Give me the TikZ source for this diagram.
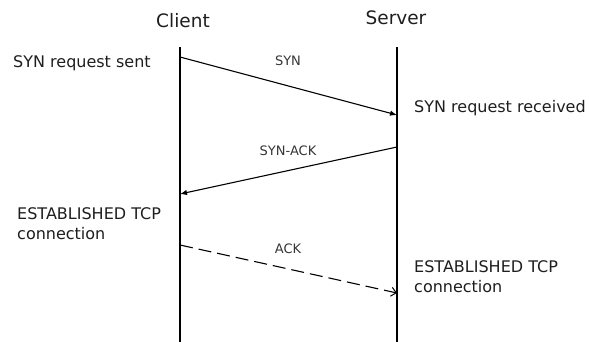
\documentclass[tikz,border=0pt]{standalone}
\usepackage{fontspec}
\setmainfont{DejaVu Sans}
\usetikzlibrary{arrows.meta}
\definecolor{ink}{HTML}{1E1E1E}
\begin{document}
\begin{tikzpicture}[x=1pt,y=-1pt,
  lifeline/.style={draw=black,line width=1.3pt},
  msg/.style={draw=black,line width=1.1pt,-{Latex[length=7pt,width=5.5pt]}},
  ackmsg/.style={draw=black,line width=1.1pt,dash pattern=on 13pt off 6pt,
    -{Straight Barb[length=5pt,width=9pt,line width=1pt]}},
  head/.style={font=\fontsize{18.5}{22}\selectfont,text=ink,inner sep=0pt,anchor=base},
  note/.style={font=\fontsize{16}{20}\selectfont,text=ink,inner sep=0pt,
    anchor=base west,align=left},
  tag/.style={font=\fontsize{13}{15}\selectfont,text=ink!90,inner sep=0pt,anchor=base}]
  \useasboundingbox (0,0) rectangle (589,341);

  % lifelines
  \coordinate (c0) at (180,47);  \coordinate (c1) at (180,342);
  \coordinate (s0) at (397,47);  \coordinate (s1) at (397,342);
  \draw[lifeline] (c0) -- (c1);
  \draw[lifeline] (s0) -- (s1);

  % titles
  \node[head] (client) at (183,27) {Client};
  \node[head] (server) at (396,24) {Server};

  % message end points
  \coordinate (synA) at (180,57);   \coordinate (synB) at (397,115);
  \coordinate (saA)  at (397,147);  \coordinate (saB)  at (180,194);
  \coordinate (ackA) at (180,245);  \coordinate (ackB) at (397,293);

  % handshake messages
  \draw[msg] (synA) -- (synB);
  \draw[msg] (saA) -- (saB);
  \draw[ackmsg] (ackA) -- (ackB);

  \node[tag] (tsyn) at (288,65) {SYN};
  \node[tag] (tsa)  at (288,155) {SYN-ACK};
  \node[tag] (tack) at (288,253) {ACK};

  % state notes
  \node[note] (sent) at (13,67) {SYN request sent};
  \node[note] (recv) at (414,112) {SYN request received};
  \node[note,anchor=north west] (estc) at (17,207) {ESTABLISHED TCP\\connection};
  \node[note,anchor=north west] (ests) at (414,260) {ESTABLISHED TCP\\connection};
\end{tikzpicture}
\end{document}
